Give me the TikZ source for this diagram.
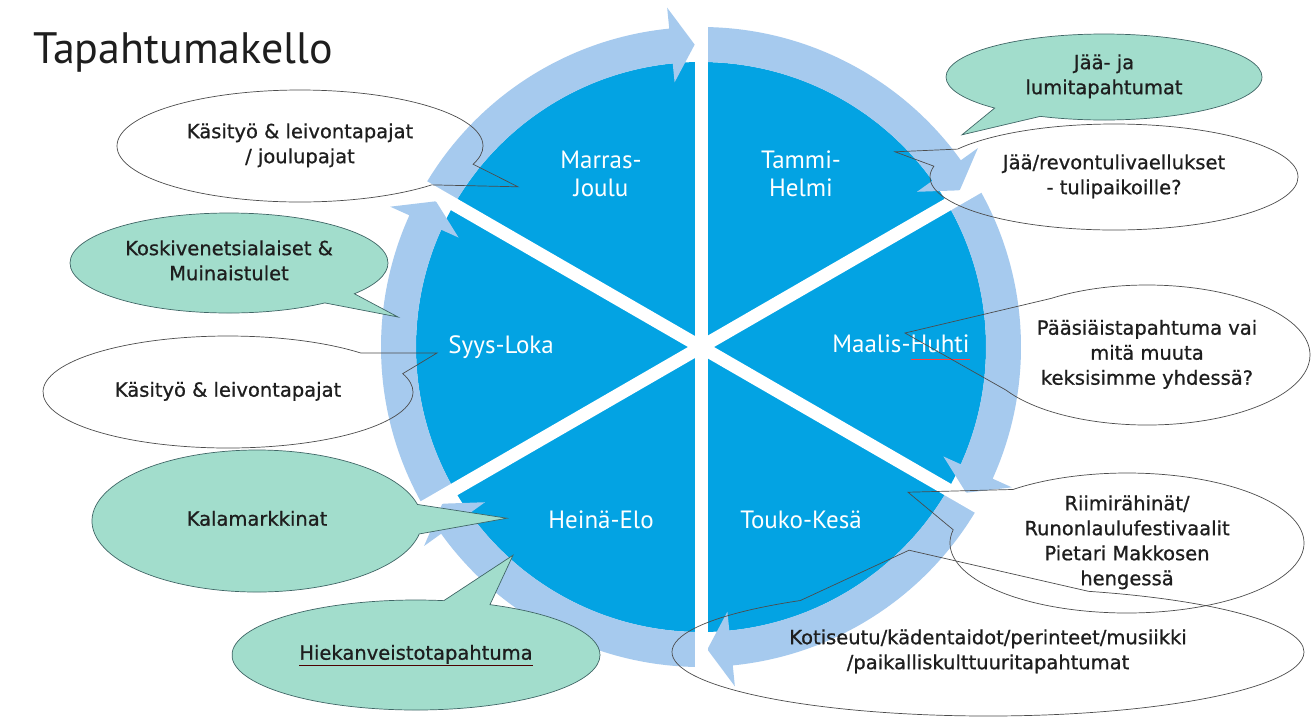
\documentclass[tikz,border=0pt]{standalone}
\usepackage{fontspec}
\setmainfont{PT Sans}
\newfontfamily\bubfont[FakeBold=0.8]{DejaVu Sans}
\usepackage{tikz}
\usetikzlibrary{calc,shapes.callouts}
\definecolor{discblue}{HTML}{03A3E3}
\definecolor{rimblue}{HTML}{A6CAEE}
\definecolor{mint}{HTML}{A2DDCC}
\definecolor{ink}{HTML}{1E1E1E}
% text of a bubble: takes no room, the ellipse size comes from the style
\newcommand{\bub}[1]{\makebox[0pt]{\smash{\raisebox{-.25em}{%
\begin{tabular}{@{}c@{}}#1\end{tabular}}}}}
\newcommand{\spellmark}[2][red!75]{\setbox0\hbox{#2}%
\rlap{\textcolor{#1}{\rule[-.3em]{\wd0}{.9pt}}}\box0}

\begin{document}
\begin{tikzpicture}[x=1pt,y=1pt,
note/.style={ellipse callout,draw=black!70,line width=.7pt,inner sep=0pt,
outer sep=0pt,text=ink,font=\bubfont\fontsize{19.5}{25}\selectfont},
hot/.style={note,fill=mint,draw=teal!40!black!75},
sect/.style={text=white,align=center,font=\fontsize{25}{28}\selectfont},
spoke/.style={white,line width=13pt},
rim/.style={fill=rimblue}
]
\path[use as bounding box,fill=white] (0,0) rectangle (1313,-724);
\node[anchor=base west,inner sep=0pt,text=ink,
font=\fontsize{44}{50}\selectfont] (title) at (33,-63) {Tapahtumakello};

% the clock
\begin{scope}[shift={(701,-347)}]
\fill[discblue] (0,0) circle[radius=285pt];
\foreach \s [evaluate=\s as \b using \s-54.3,
evaluate=\s as \t using \s-58.8] in {150,90,30,-30,-90,-150}
\fill[rim] (\s:320) arc[start angle=\s,end angle=\b,radius=320pt]
-- (\b:341) -- (\t:302.5) -- (\b:266) -- (\b:285)
arc[start angle=\b,end angle=\s,radius=285pt] -- cycle;
\foreach \a in {90,30,-30}
\draw[spoke] (\a:325) -- (\a+180:325);
\foreach \a/\n/\txt in {120/mj/{Marras-\\Joulu},60/th/{Tammi-\\Helmi},
0/mh/{Maalis-\spellmark{Huhti}},-60/tk/{Touko-Kesä},
-120/he/{Heinä-Elo},180/sl/{Syys-Loka}}
\node[sect] (\n) at (\a:200) {\txt};
\end{scope}

% left side
\node[note,minimum width=366,minimum height=112,callout pointer arc=25,
callout absolute pointer={($(mj)+(-83,-13)$)}] (joulu) at (300,-146)
{\bub{Käsityö \& leivontapajat\\/ joulupajat}};
\node[hot,minimum width=318,minimum height=100,callout pointer arc=15,
callout absolute pointer={($(sl)+(-103,30)$)}] (koski) at (229,-263)
{\bub{Koskivenetsialaiset \&\\Muinaistulet}};
\node[note,minimum width=370,minimum height=112,callout pointer arc=25,
callout absolute pointer={($(sl)+(-64,-6)$)}] (kasi) at (228,-392)
{\bub{Käsityö \& leivontapajat}};
\node[hot,minimum width=330,minimum height=142,callout pointer arc=24,
callout absolute pointer={($(he)+(-94,2)$)}] (kala) at (257,-521)
{\bub{Kalamarkkinat}};
\node[hot,minimum width=368,minimum height=110,callout pointer arc=15,
callout absolute pointer={($(he)+(-88,-35)$)}] (hieka) at (416,-655)
{\bub{\spellmark[black!70!red]{Hiekanveistotapahtuma}}};

% right side
\node[hot,minimum width=316,minimum height=86,callout pointer arc=20,
callout absolute pointer={($(th)+(161,39)$)}] (lumi) at (1104,-77)
{\bub{Jää- ja\\lumitapahtumat}};
\node[note,minimum width=368,minimum height=106,callout pointer arc=20,
callout absolute pointer={($(th)+(94,22)$)}] (revon) at (1114,-177)
{\bub{Jää/revontulivaellukset\\- tulipaikoille?}};
\node[note,minimum width=326,minimum height=140,callout pointer arc=84,
callout absolute pointer={($(mh)+(4,14)$)}] (paasi) at (1147,-355)
{\bub{Pääsiäistapahtuma vai\\mitä muuta\\keksisimme yhdessä?}};
\node[note,minimum width=354,minimum height=140,callout pointer arc=39,
callout absolute pointer={($(tk)+(107,28)$)}] (riimi) at (1127,-543)
{\bub{Riimirähinät/\\Runonlaulufestivaalit\\Pietari Makkosen\\hengessä}};
\node[note,minimum width=632,minimum height=128,callout pointer arc=55,
callout absolute pointer={($(tk)+(108,-30)$)}] (koti) at (988,-652)
{\bub{Kotiseutu/kädentaidot/perinteet/musiikki\\/paikalliskulttuuritapahtumat}};
\end{tikzpicture}
\end{document}
